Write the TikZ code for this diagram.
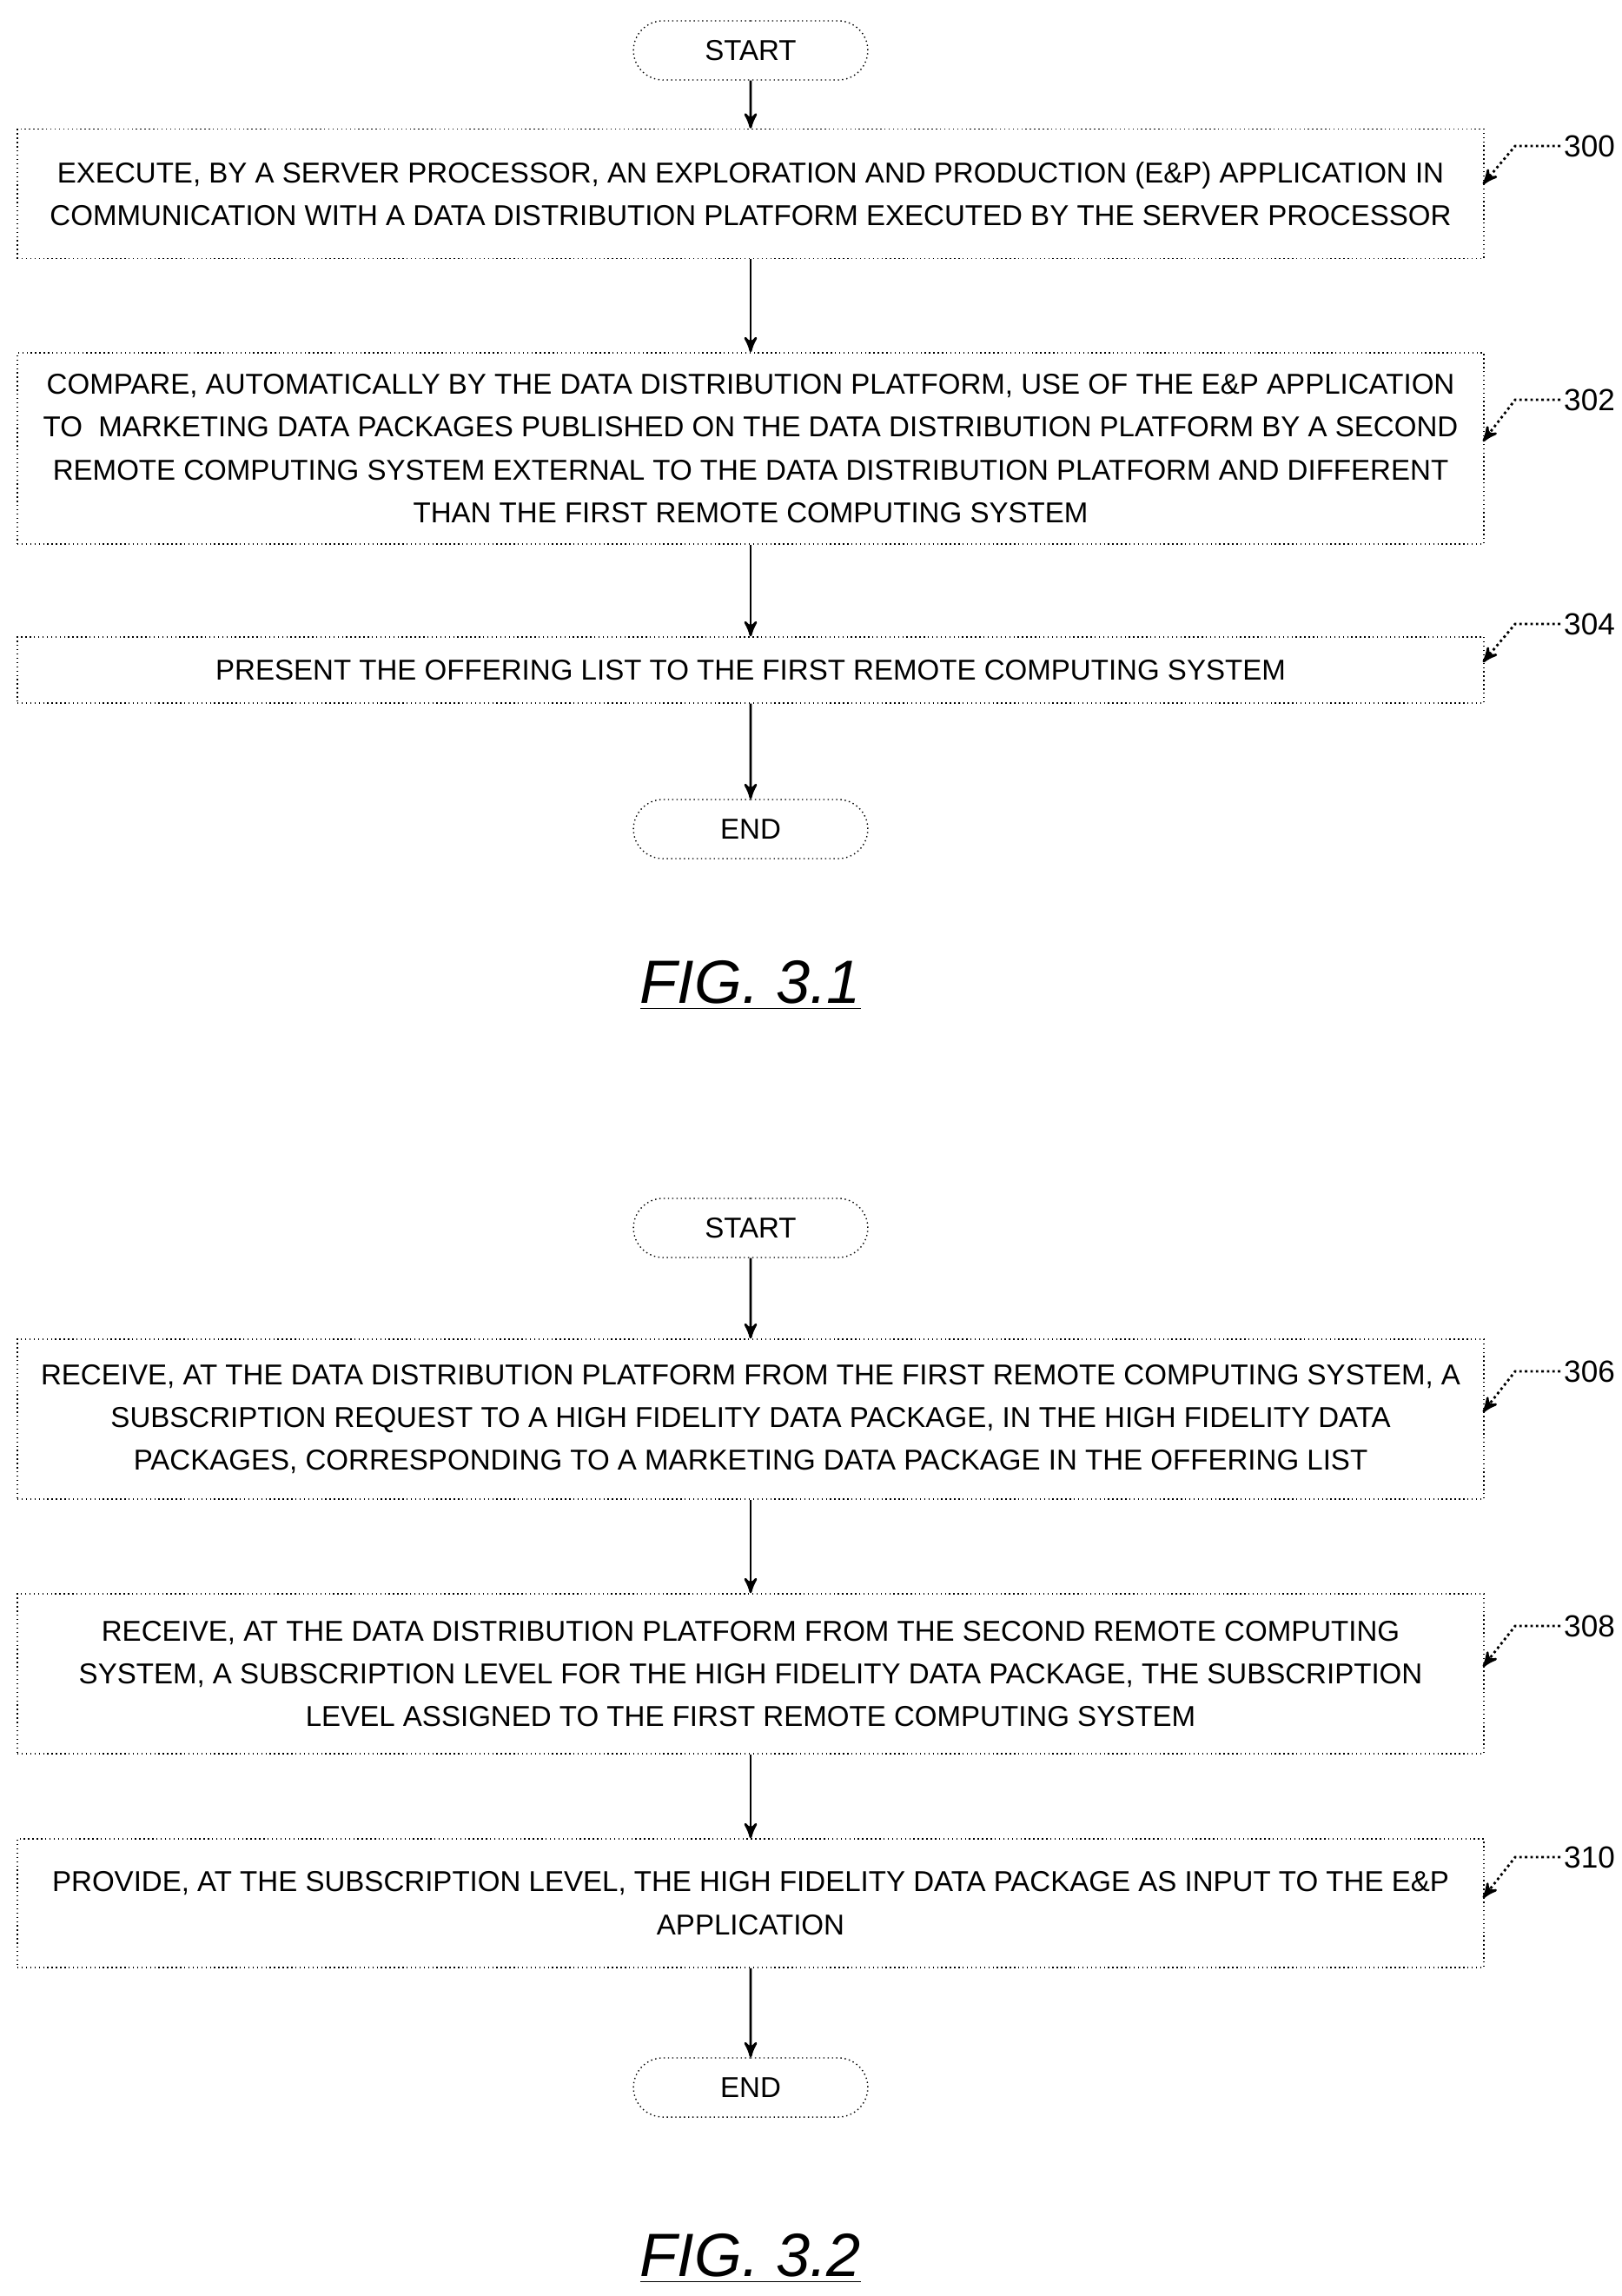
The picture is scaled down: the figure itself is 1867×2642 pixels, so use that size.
\documentclass[tikz,border=0pt]{standalone}
\usepackage{fontspec}
\setmainfont{Liberation Sans}
\usetikzlibrary{arrows,positioning,shapes}
\begin{document}
\begin{tikzpicture}[x=0.01cm,y=-0.01cm,>=stealth',
		stepbox/.style={rectangle,draw=black,densely dotted,minimum width=16.87cm,inner sep=1pt,align=center,font=\fontsize{9.4}{14}\selectfont},
		term/.style={rounded rectangle,draw=black,densely dotted,minimum width=2.93cm,minimum height=0.68cm,font=\fontsize{9.4}{12}\selectfont},
		flow/.style={->,thick,solid},
		lead/.style={->,densely dotted,thick},
		ref/.style={font=\fontsize{10}{12}\selectfont,anchor=west,inner sep=1pt},
		fig/.style={font=\fontsize{20}{24}\selectfont\itshape}]
		\useasboundingbox (0,0) rectangle (1867,2642);
		% FIG. 3.1
		\node[term] (s1) at (864,58) {START};
		\node[stepbox,minimum height=1.49cm] (b300) at (864,223) {EXECUTE, BY A SERVER PROCESSOR, AN EXPLORATION AND PRODUCTION (E\&P) APPLICATION IN\\COMMUNICATION WITH A DATA DISTRIBUTION PLATFORM EXECUTED BY THE SERVER PROCESSOR};
		\node[stepbox,minimum height=2.2cm] (b302) at (864,516) {COMPARE, AUTOMATICALLY BY THE DATA DISTRIBUTION PLATFORM, USE OF THE E\&P APPLICATION\\TO\ \ MARKETING DATA PACKAGES PUBLISHED ON THE DATA DISTRIBUTION PLATFORM BY A SECOND\\REMOTE COMPUTING SYSTEM EXTERNAL TO THE DATA DISTRIBUTION PLATFORM AND DIFFERENT\\THAN THE FIRST REMOTE COMPUTING SYSTEM};
		\node[stepbox,minimum height=0.76cm] (b304) at (864,771) {PRESENT THE OFFERING LIST TO THE FIRST REMOTE COMPUTING SYSTEM};
		\node[term] (e1) at (864,954) {END};
		\node[fig] (f1) at (864,1134) {\underline{FIG. 3.1}};
		\draw[flow] (s1) -- (b300);
		\draw[flow] (b300) -- (b302);
		\draw[flow] (b302) -- (b304);
		\draw[flow] (b304) -- (e1);
		% FIG. 3.2
		\node[term] (s2) at (864,1413) {START};
		\node[stepbox,minimum height=1.84cm] (b306) at (864,1633) {RECEIVE, AT THE DATA DISTRIBUTION PLATFORM FROM THE FIRST REMOTE COMPUTING SYSTEM, A\\SUBSCRIPTION REQUEST TO A HIGH FIDELITY DATA PACKAGE, IN THE HIGH FIDELITY DATA\\PACKAGES, CORRESPONDING TO A MARKETING DATA PACKAGE IN THE OFFERING LIST};
		\node[stepbox,minimum height=1.84cm] (b308) at (864,1926) {RECEIVE, AT THE DATA DISTRIBUTION PLATFORM FROM THE SECOND REMOTE COMPUTING\\SYSTEM, A SUBSCRIPTION LEVEL FOR THE HIGH FIDELITY DATA PACKAGE, THE SUBSCRIPTION\\LEVEL ASSIGNED TO THE FIRST REMOTE COMPUTING SYSTEM};
		\node[stepbox,minimum height=1.48cm] (b310) at (864,2190) {PROVIDE, AT THE SUBSCRIPTION LEVEL, THE HIGH FIDELITY DATA PACKAGE AS INPUT TO THE E\&P\\APPLICATION};
		\node[term] (e2) at (864,2402) {END};
		\node[fig] (f2) at (864,2599) {\underline{FIG. 3.2}};
		\draw[flow] (s2) -- (b306);
		\draw[flow] (b306) -- (b308);
		\draw[flow] (b308) -- (b310);
		\draw[flow] (b310) -- (e2);
		% reference numerals
		\foreach \num/\y/\yb in {300/168/212,302/460/508,304/718/762,306/1578/1625,308/1871/1918,310/2137/2184}{
			\node[ref] (r\num) at (1796,\y) {\num};
			\coordinate (k\num) at (1744,\y);
			\draw[lead] (r\num.west) -- (k\num) -- (1707,\yb);
		}
\end{tikzpicture}
\end{document}
